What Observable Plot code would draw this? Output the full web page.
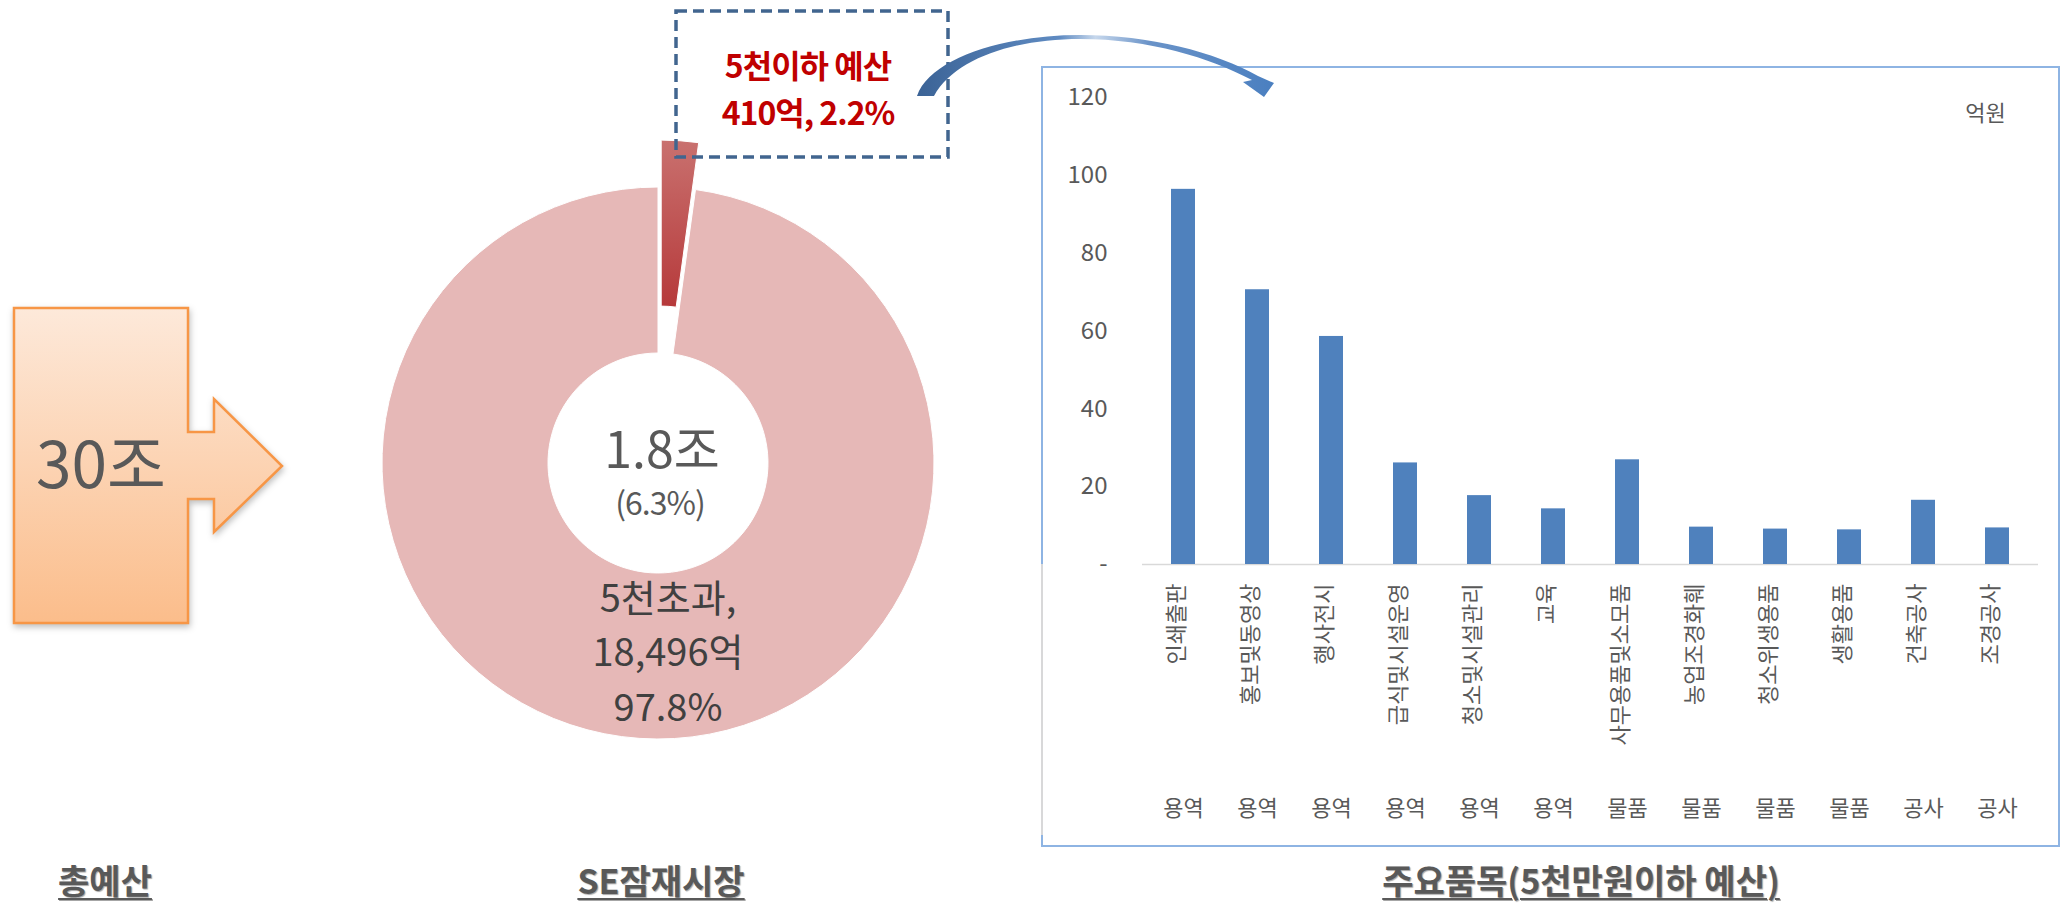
<!DOCTYPE html>
<html><head><meta charset="utf-8">
<script src="https://cdn.jsdelivr.net/npm/d3@7"></script>
<script src="https://cdn.jsdelivr.net/npm/@observablehq/plot@0.6"></script>
<style>
html,body{margin:0;padding:0;background:#fff;}
#root{position:relative;width:2068px;height:905px;overflow:hidden;font-family:"Noto Sans CJK KR","Noto Sans",sans-serif;}
.layer{position:absolute;}
.title{position:absolute;top:859px;font-weight:700;font-size:34px;line-height:42px;color:#595959;text-decoration:underline;text-decoration-thickness:2px;text-underline-offset:4px;letter-spacing:0px;text-shadow:1px 1px 1px rgba(0,0,0,0.35);transform:translateX(-50%);white-space:nowrap;}
#frame{position:absolute;left:1041px;top:66px;width:1019px;height:781px;border:2px solid #8eb4e3;box-sizing:border-box;}
</style></head><body><div id="root"><div id="frame"></div></div>
<script>
// ---------- data ----------
const categories = ["인쇄출판","홍보및동영상","행사전시","급식및시설운영","청소및시설관리","교육","사무용품및소모품","농업조경화훼","청소위생용품","생활용품","건축공사","조경공사"];
const groups = ["용역","용역","용역","용역","용역","용역","물품","물품","물품","물품","공사","공사"];
const values = [96.4, 70.6, 58.6, 26.1, 17.7, 14.3, 26.9, 9.6, 9.1, 8.9, 16.5, 9.4];
const yTicks = [0, 20, 40, 60, 80, 100, 120];
const unitLabel = "억원";
const donutNames = ["5천이하", "5천초과"];
const donutValues = [410, 18496];
const totalLabel = "30조";
const centerLabel = "1.8조";
const centerSub = "(6.3%)";
const bigSliceLines = ["5천초과,", "18,496억", "97.8%"];
const smallSliceLines = ["5천이하 예산", "410억, 2.2%"];
const panelTitles = ["총예산", "SE잠재시장", "주요품목(5천만원이하 예산)"];

const FONT = '"Noto Sans CJK KR","Noto Sans",sans-serif';
const root = document.getElementById("root");

// ---------- left panel + donut (one Plot canvas covering the page) ----------
const CX = 658, CY = 463, R0 = 110, R1 = 276, EXPLODE = 47;

function leftArrowMark() {
  const g = d3.create("svg:g");
  const defs = g.append("defs");
  const gr = defs.append("linearGradient").attr("id","orangeGrad").attr("x1",0).attr("y1",0).attr("x2",0).attr("y2",1);
  gr.append("stop").attr("offset",0).attr("stop-color","#fde9da");
  gr.append("stop").attr("offset",1).attr("stop-color","#fbbd8b");
  g.append("path")
    .attr("d","M14,308 H188 V432 H214 V399 L282,466 L214,532 V499 H188 V623 H14 Z")
    .attr("fill","url(#orangeGrad)").attr("stroke","#f79646").attr("stroke-width",2.5)
    .attr("stroke-linejoin","miter")
    .style("filter","drop-shadow(1px 3px 3px rgba(0,0,0,0.25))");
  g.append("text").attr("x",101).attr("y",488).attr("text-anchor","middle")
    .attr("font-size",64).attr("fill","#595959").attr("font-family",FONT).text(totalLabel);
  return g.node();
}

function donutMark() {
  const g = d3.create("svg:g");
  const defs = g.append("defs");
  const gr = defs.append("linearGradient").attr("id","smallGrad").attr("x1",0).attr("y1",0).attr("x2",0).attr("y2",1);
  gr.append("stop").attr("offset",0).attr("stop-color","#c9716f");
  gr.append("stop").attr("offset",1).attr("stop-color","#b6393a");
  const pie = d3.pie().sort(null)(donutValues);
  const arc = d3.arc().innerRadius(R0).outerRadius(R1);
  const c = g.append("g").attr("transform",`translate(${CX},${CY})`);
  pie.forEach((p, i) => {
    const ex = i === 0 ? EXPLODE : 0;
    const mid = (p.startAngle + p.endAngle) / 2;
    c.append("path").attr("d", arc(p))
      .attr("transform", `translate(${Math.sin(mid)*ex},${-Math.cos(mid)*ex})`)
      .attr("fill", i === 0 ? "url(#smallGrad)" : "#e6b8b7")
      .attr("stroke","#fff").attr("stroke-width",1)
      .append("title").text(donutNames[i]);
  });
  const t = (x, y, size, fill, s, weight) => g.append("text").attr("x",x).attr("y",y)
    .attr("text-anchor","middle").attr("font-size",size).attr("fill",fill)
    .attr("font-weight",weight||400).attr("font-family",FONT).text(s);
  t(CX+4, 468, 50, "#595959", centerLabel);
  t(CX+2, 515, 32, "#595959", centerSub).attr("letter-spacing",-1);
  const ys = [612, 666, 721];
  bigSliceLines.forEach((s, i) => t(668, ys[i], 38, "#404040", s));
  return g.node();
}

function calloutMark() {
  const g = d3.create("svg:g");
  g.append("rect").attr("x",676).attr("y",11).attr("width",272).attr("height",146)
    .attr("fill","none").attr("stroke","#41658f").attr("stroke-width",3.5)
    .attr("stroke-dasharray","11 6");
  const ys = [78, 125];
  smallSliceLines.forEach((s, i) => g.append("text").attr("x",808).attr("y",ys[i])
    .attr("text-anchor","middle").attr("font-size",32).attr("font-weight",700)
    .attr("letter-spacing",-1).attr("fill","#c00000").attr("font-family",FONT).text(s));
  // curved arrow
  const defs = g.append("defs");
  const gr = defs.append("linearGradient").attr("id","curveGrad").attr("x1",0).attr("y1",0).attr("x2",1).attr("y2",0);
  gr.append("stop").attr("offset",0).attr("stop-color","#3b6396");
  gr.append("stop").attr("offset",0.4).attr("stop-color","#5f8bc2");
  gr.append("stop").attr("offset",0.5).attr("stop-color","#c6d7ec");
  gr.append("stop").attr("offset",0.65).attr("stop-color","#6a93c8");
  gr.append("stop").attr("offset",1).attr("stop-color","#4a7fc0");
  g.append("path").attr("fill","url(#curveGrad)")
    .attr("d","M917,96 C930,58 1005,35 1080,35 C1150,35 1215,52 1258,76 L1274,83 L1264,97 L1243,82 L1252,80 C1210,58 1150,39 1080,39 C1015,39 955,58 934,96 Z");
  return g.node();
}

const main = Plot.plot({
  width: 2068, height: 905,
  margin: 0,
  style: {background: "transparent", overflow: "visible", fontFamily: FONT},
  marks: [leftArrowMark, donutMark, calloutMark]
});
main.setAttribute("class","layer");
main.style.left = "0px"; main.style.top = "0px";
root.appendChild(main);

// ---------- bar chart ----------
const data = categories.map((c, i) => ({category: c, group: groups[i], value: values[i]}));

function separators(index, scales, vals, dims) {
  const g = d3.create("svg:g");
  const n = categories.length;
  const step = (dims.width - dims.marginLeft - dims.marginRight) / n;
  const y0 = scales.y(0);
  for (let i = 0; i <= n; i++) {
    const x = i < n ? scales.x(categories[i]) + scales.x.bandwidth / 2 - step / 2
                    : scales.x(categories[n-1]) + scales.x.bandwidth / 2 + step / 2;
    g.append("line").attr("x1",x).attr("x2",x).attr("y1",y0).attr("y2",y0 + 271)
      .attr("stroke","#d9d9d9").attr("stroke-width",1.5);
  }
  return g.node();
}

const bar = Plot.plot({
  width: 1020, height: 782,
  marginLeft: 100, marginRight: 24, marginTop: 30, marginBottom: 285,
  style: {fontFamily: FONT, fontSize: "24px", color: "#595959", background: "transparent", overflow: "visible"},
  x: {domain: categories, paddingInner: 0.68, paddingOuter: 0.34, axis: null},
  y: {domain: [0, 120], axis: null},
  marks: [
    separators,
    Plot.ruleY([0], {stroke: "#d9d9d9", strokeWidth: 1.5}),
    Plot.barY(data, {x: "category", y: "value", fill: "#4f81bd"}),
    Plot.axisY(yTicks, {tickFormat: d => d === 0 ? "-" : String(d), tickSize: 0, tickPadding: 35, fontSize: 24, fill: "#595959", label: null}),
    Plot.text(data, {x: "category", text: "category", frameAnchor: "bottom", dy: 19, rotate: -90, textAnchor: "end", fontSize: 22, fill: "#595959"}),
    Plot.text(data, {x: "category", text: "group", frameAnchor: "bottom", dy: 251, fontSize: 22, fill: "#595959"}),
    Plot.text([unitLabel], {text: d => d, frameAnchor: "top-right", textAnchor: "middle", lineAnchor: "middle", dx: -53, dy: 16, fontSize: 22, fill: "#595959"})
  ]
});
bar.setAttribute("class","layer");
bar.style.left = "1042px"; bar.style.top = "67px";
root.appendChild(bar);

// ---------- panel titles ----------
const titleX = [105, 661, 1581];
panelTitles.forEach((s, i) => {
  const d = document.createElement("div");
  d.className = "title"; d.style.left = titleX[i] + "px"; d.textContent = s;
  root.appendChild(d);
});
</script></body></html>
